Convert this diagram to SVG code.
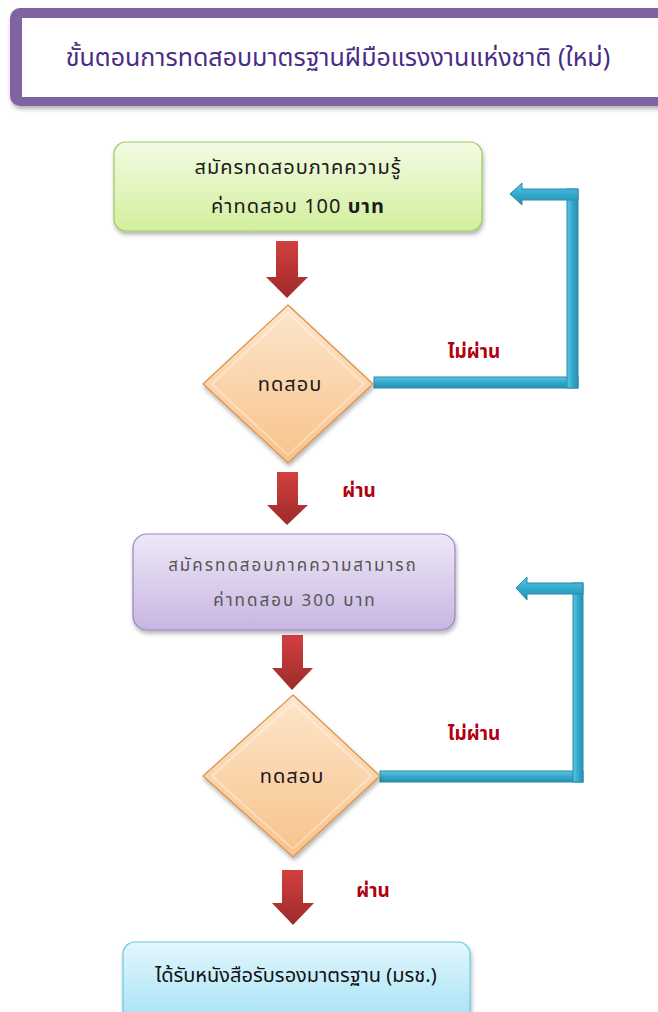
<svg xmlns="http://www.w3.org/2000/svg" width="658" height="1012" viewBox="0 0 658 1012">
<defs>
<style>
text{font-family:"Noto Sans Thai","Tahoma","Noto Sans","DejaVu Sans",sans-serif;text-anchor:middle}
.title{font-size:25px;fill:#4a2c86}
.t1{font-size:20px;fill:#1a1a1a;letter-spacing:1px}
.t2{font-size:17px;fill:#555;letter-spacing:2px}
.td{font-size:20px;fill:#1a1a1a;letter-spacing:1px}
.t3{font-size:20px;fill:#111}
.lab{font-size:19px;font-weight:bold;fill:#b00010}
.red{fill:url(#gRed)}
.blue{fill:url(#gBlue);stroke:#2a8aa8;stroke-width:1}
.bluev{fill:url(#gBlueV);stroke:#2a8aa8;stroke-width:1}
</style>
<linearGradient id="gGreen" x1="0" y1="0" x2="0" y2="1"><stop offset="0" stop-color="#f3fbe4"/><stop offset="1" stop-color="#d2ef9c"/></linearGradient>
<linearGradient id="gPurple" x1="0" y1="0" x2="0" y2="1"><stop offset="0" stop-color="#eee8f6"/><stop offset="1" stop-color="#c8b6e2"/></linearGradient>
<linearGradient id="gBlueBox" x1="0" y1="0" x2="0" y2="1"><stop offset="0" stop-color="#e2f7fd"/><stop offset="1" stop-color="#a6e2f6"/></linearGradient>
<linearGradient id="gPeach" x1="0" y1="0" x2="0" y2="1"><stop offset="0" stop-color="#fde6cc"/><stop offset="1" stop-color="#f8c28a"/></linearGradient>
<linearGradient id="gRed" x1="0" y1="0" x2="0" y2="1"><stop offset="0" stop-color="#d24040"/><stop offset="1" stop-color="#9e2a2a"/></linearGradient>
<linearGradient id="gBlue" x1="0" y1="0" x2="0" y2="1"><stop offset="0" stop-color="#5cc6e4"/><stop offset="0.5" stop-color="#33aacd"/><stop offset="1" stop-color="#2a8fb0"/></linearGradient>
<linearGradient id="gBlueV" x1="0" y1="0" x2="1" y2="0"><stop offset="0" stop-color="#5cc6e4"/><stop offset="0.5" stop-color="#33aacd"/><stop offset="1" stop-color="#2a8fb0"/></linearGradient>
<filter id="sh" x="-10%" y="-10%" width="120%" height="130%"><feDropShadow dx="1" dy="3" stdDeviation="2" flood-color="#000" flood-opacity="0.3"/></filter>
</defs>

<g id="title">
<rect x="10" y="8" width="680" height="98" rx="10" fill="#8064a2" filter="url(#sh)"/>
<rect x="22" y="18" width="680" height="79" fill="#fff"/>
<text class="title" x="338" y="66">ขั้นตอนการทดสอบมาตรฐานฝีมือแรงงานแห่งชาติ  (ใหม่)</text>
</g>

<g id="connectors">
<path class="red" d="M276,241 H298 V277 H308 L287,298 L266,277 H276 Z"/>
<path class="red" d="M277,472 H298 V505 H308 L287,525 L267,505 H277 Z"/>
<path class="red" d="M282,635 H303 V668 H313 L292,690 L272,668 H282 Z"/>
<path class="red" d="M282,870 H303 V903 H314 L293,925 L272,903 H282 Z"/>
<rect class="blue" x="374" y="377" width="204" height="11"/>
<rect class="bluev" x="567" y="189" width="11" height="199"/>
<path class="blue" d="M578,189 V200 H522 V205 L510,194 L522,183 V189 Z"/>
<rect class="blue" x="380" y="771" width="203" height="11"/>
<rect class="bluev" x="573" y="583" width="10" height="199"/>
<path class="blue" d="M583,583 V594 H527 V600 L516,588 L527,577 V583 Z"/>
<text class="lab" x="474" y="358">ไม่ผ่าน</text>
<text class="lab" x="359" y="497">ผ่าน</text>
<text class="lab" x="474" y="740">ไม่ผ่าน</text>
<text class="lab" x="373" y="897">ผ่าน</text>
</g>

<g id="box1">
<rect x="114" y="142" width="368" height="89" rx="12" fill="url(#gGreen)" stroke="#9cc95c" stroke-width="1.2" filter="url(#sh)"/>
<text class="t1" x="298" y="174">สมัครทดสอบภาคความรู้</text>
<text class="t1" x="298" y="213">ค่าทดสอบ 100 <tspan font-weight="bold">บาท</tspan></text>
</g>

<g id="test1">
<path d="M288,305 L373,384 L288,463 L203,384 Z" fill="url(#gPeach)" stroke="#d9914a" stroke-width="1.2" filter="url(#sh)"/>
<path d="M288,313 L364,384 L288,455 L212,384 Z" fill="none" stroke="#fff" stroke-opacity="0.35" stroke-width="2"/>
<text class="td" x="290" y="391">ทดสอบ</text>
</g>

<g id="box2">
<rect x="133" y="534" width="322" height="96" rx="14" fill="url(#gPurple)" stroke="#9c84c4" stroke-width="1.2" filter="url(#sh)"/>
<text class="t2" x="293" y="571">สมัครทดสอบภาคความสามารถ</text>
<text class="t2" x="295" y="606">ค่าทดสอบ 300 บาท</text>
</g>

<g id="test2">
<path d="M293,695 L380,776 L293,857 L203,776 Z" fill="url(#gPeach)" stroke="#d9914a" stroke-width="1.2" filter="url(#sh)"/>
<path d="M293,703 L371,776 L293,849 L212,776 Z" fill="none" stroke="#fff" stroke-opacity="0.35" stroke-width="2"/>
<text class="td" x="292" y="783">ทดสอบ</text>
</g>

<g id="box3">
<rect x="123" y="942" width="347" height="80" rx="12" fill="url(#gBlueBox)" stroke="#6ac8e4" stroke-width="1.2" filter="url(#sh)"/>
<text class="t3" x="296" y="982">ได้รับหนังสือรับรองมาตรฐาน (มรช.)</text>
</g>
</svg>
